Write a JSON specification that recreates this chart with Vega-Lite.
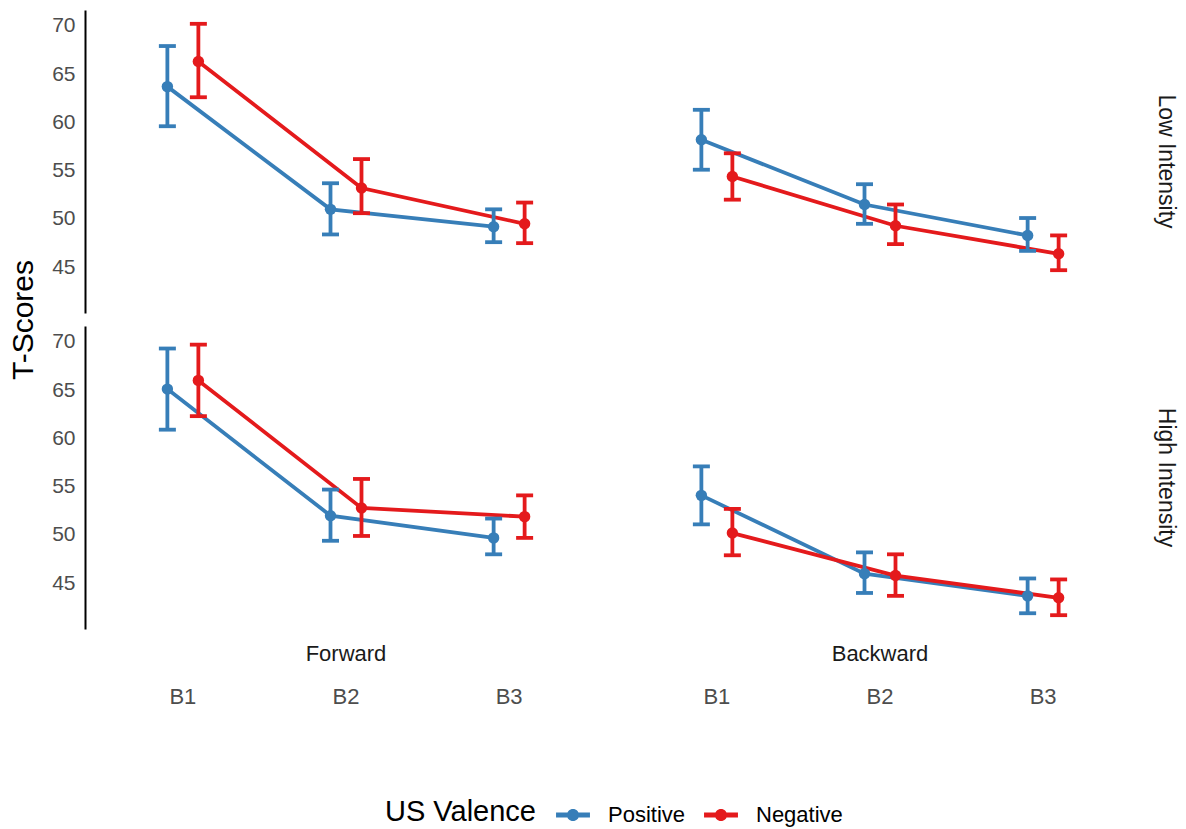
{
  "$schema": "https://vega.github.io/schema/vega-lite/v6.json",
  "padding": {"left": 8, "top": 10, "right": 5, "bottom": 5},
  "background": "white",
  "config": {
    "font": "Liberation Sans",
    "view": {"stroke": null},
    "axisY": {"domainColor": "black", "domainWidth": 2, "ticks": false, "grid": false, "labelColor": "#4d4d4d", "labelFontSize": 21, "labelPadding": 10, "title": null},
    "axisX": {"domain": false, "ticks": false, "grid": false, "labelColor": "#4d4d4d", "labelFontSize": 22, "labelPadding": 57, "labelAngle": 0}
  },
  "data": {"values": [
    {"direction": "Forward", "intensity": "Low Intensity", "block": "B1", "valence": "Positive", "mean": 63.7, "lo": 59.6, "hi": 67.9},
    {"direction": "Forward", "intensity": "Low Intensity", "block": "B1", "valence": "Negative", "mean": 66.3, "lo": 62.6, "hi": 70.2},
    {"direction": "Forward", "intensity": "Low Intensity", "block": "B2", "valence": "Positive", "mean": 51.0, "lo": 48.4, "hi": 53.7},
    {"direction": "Forward", "intensity": "Low Intensity", "block": "B2", "valence": "Negative", "mean": 53.2, "lo": 50.6, "hi": 56.2},
    {"direction": "Forward", "intensity": "Low Intensity", "block": "B3", "valence": "Positive", "mean": 49.2, "lo": 47.6, "hi": 51.0},
    {"direction": "Forward", "intensity": "Low Intensity", "block": "B3", "valence": "Negative", "mean": 49.5, "lo": 47.5, "hi": 51.7},
    {"direction": "Backward", "intensity": "Low Intensity", "block": "B1", "valence": "Positive", "mean": 58.2, "lo": 55.1, "hi": 61.3},
    {"direction": "Backward", "intensity": "Low Intensity", "block": "B1", "valence": "Negative", "mean": 54.4, "lo": 52.0, "hi": 56.8},
    {"direction": "Backward", "intensity": "Low Intensity", "block": "B2", "valence": "Positive", "mean": 51.5, "lo": 49.5, "hi": 53.6},
    {"direction": "Backward", "intensity": "Low Intensity", "block": "B2", "valence": "Negative", "mean": 49.3, "lo": 47.4, "hi": 51.5},
    {"direction": "Backward", "intensity": "Low Intensity", "block": "B3", "valence": "Positive", "mean": 48.3, "lo": 46.7, "hi": 50.1},
    {"direction": "Backward", "intensity": "Low Intensity", "block": "B3", "valence": "Negative", "mean": 46.4, "lo": 44.7, "hi": 48.3},
    {"direction": "Forward", "intensity": "High Intensity", "block": "B1", "valence": "Positive", "mean": 65.1, "lo": 60.9, "hi": 69.3},
    {"direction": "Forward", "intensity": "High Intensity", "block": "B1", "valence": "Negative", "mean": 66.0, "lo": 62.3, "hi": 69.7},
    {"direction": "Forward", "intensity": "High Intensity", "block": "B2", "valence": "Positive", "mean": 52.0, "lo": 49.4, "hi": 54.7},
    {"direction": "Forward", "intensity": "High Intensity", "block": "B2", "valence": "Negative", "mean": 52.8, "lo": 49.9, "hi": 55.8},
    {"direction": "Forward", "intensity": "High Intensity", "block": "B3", "valence": "Positive", "mean": 49.7, "lo": 48.0, "hi": 51.7},
    {"direction": "Forward", "intensity": "High Intensity", "block": "B3", "valence": "Negative", "mean": 51.9, "lo": 49.7, "hi": 54.1},
    {"direction": "Backward", "intensity": "High Intensity", "block": "B1", "valence": "Positive", "mean": 54.1, "lo": 51.1, "hi": 57.1},
    {"direction": "Backward", "intensity": "High Intensity", "block": "B1", "valence": "Negative", "mean": 50.2, "lo": 47.9, "hi": 52.7},
    {"direction": "Backward", "intensity": "High Intensity", "block": "B2", "valence": "Positive", "mean": 46.0, "lo": 44.0, "hi": 48.2},
    {"direction": "Backward", "intensity": "High Intensity", "block": "B2", "valence": "Negative", "mean": 45.8, "lo": 43.7, "hi": 48.0},
    {"direction": "Backward", "intensity": "High Intensity", "block": "B3", "valence": "Positive", "mean": 43.7, "lo": 41.9, "hi": 45.5},
    {"direction": "Backward", "intensity": "High Intensity", "block": "B3", "valence": "Negative", "mean": 43.5, "lo": 41.7, "hi": 45.4}
  ]},
  "facet": {
    "row": {"field": "intensity", "type": "nominal", "sort": ["Low Intensity", "High Intensity"], "title": "T-Scores",
      "header": {"titleOrient": "left", "titleAngle": 270, "titleFontSize": 30, "titleFontWeight": "normal", "titleColor": "black", "titlePadding": -28,
        "labelOrient": "right", "labelAngle": 90, "labelFontSize": 23, "labelColor": "#1a1a1a", "labelPadding": 13}},
    "column": {"field": "direction", "type": "nominal", "sort": ["Forward", "Backward"],
      "header": {"title": null, "labelOrient": "bottom", "labelFontSize": 22, "labelColor": "#1a1a1a", "labelPadding": -63}}
  },
  "spacing": {"row": 13, "column": 12},
  "spec": {
    "width": 522,
    "height": 303,
    "encoding": {
      "x": {"field": "block", "type": "nominal", "title": null,
        "scale": {"type": "band", "paddingInner": 0.62, "paddingOuter": 0.41}},
      "xOffset": {"field": "valence", "type": "nominal", "sort": ["Positive", "Negative"]},
      "color": {"field": "valence", "type": "nominal", "title": "US Valence",
        "scale": {"domain": ["Positive", "Negative"], "range": ["#377EB8", "#E41A1C"]},
        "legend": {"orient": "none", "direction": "horizontal", "legendX": 300, "legendY": 788,
          "titleOrient": "left", "titleFontSize": 29, "titleFontWeight": "normal", "titleColor": "black", "titlePadding": 20,
          "labelFontSize": 22, "labelColor": "black", "labelOffset": 18, "columnPadding": 18,
          "symbolType": "M-1,-0.15H1V0.15H-1Z M0.36,0 A0.36,0.36 0 1,1 -0.36,0 A0.36,0.36 0 1,1 0.36,0Z",
          "symbolSize": 1150, "symbolStrokeWidth": 0, "symbolOpacity": 1}}
    },
    "layer": [
      {"mark": {"type": "line", "strokeWidth": 3.8, "opacity": 1},
        "encoding": {"y": {"field": "mean", "type": "quantitative",
          "scale": {"domain": [40.27, 71.63], "nice": false, "zero": false},
          "axis": {"values": [45, 50, 55, 60, 65, 70]}}}},
      {"mark": {"type": "rule", "strokeWidth": 3.8, "opacity": 1},
        "encoding": {"y": {"field": "lo", "type": "quantitative"}, "y2": {"field": "hi"}}},
      {"mark": {"type": "tick", "thickness": 3.8, "size": 17, "orient": "horizontal", "opacity": 1},
        "encoding": {"y": {"field": "lo", "type": "quantitative"}}},
      {"mark": {"type": "tick", "thickness": 3.8, "size": 17, "orient": "horizontal", "opacity": 1},
        "encoding": {"y": {"field": "hi", "type": "quantitative"}}},
      {"mark": {"type": "point", "filled": true, "opacity": 1, "size": 130},
        "encoding": {"y": {"field": "mean", "type": "quantitative"}}}
    ]
  }
}
